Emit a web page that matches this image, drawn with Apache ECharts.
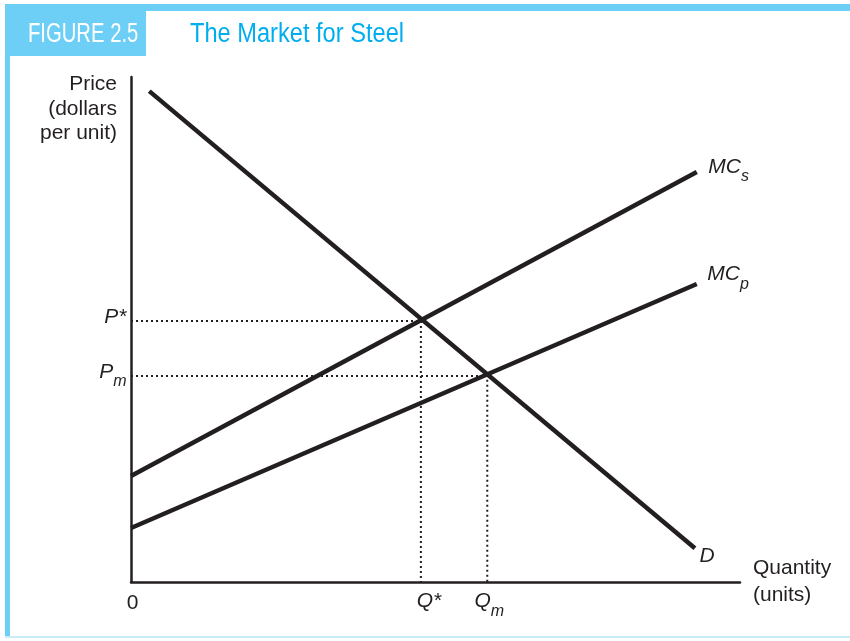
<!DOCTYPE html>
<html>
<head>
<meta charset="utf-8">
<script src="https://cdn.jsdelivr.net/npm/echarts@6/dist/echarts.min.js"></script>
<style>
html,body{margin:0;padding:0;background:#fff;}
#chart{width:850px;height:641px;}
</style>
</head>
<body>
<div id="chart"></div>
<script>
// ---- data (axis units 0..100) ----
const demand = [[3.0, 97.2], [92.6, 6.7]];
const mcSocial = [[0, 21.0], [92.9, 81.2]];
const mcPrivate = [[0, 10.7], [92.9, 59.0]];
const qStar = 47.6, pStar = 51.7;
const qM = 58.5, pM = 40.8;
const figureTag = 'FIGURE 2.5';
const figureTitle = 'The Market for Steel';
const yName = 'Price\n(dollars\nper unit)';
const xName = 'Quantity\n(units)';

const FONT = '"Liberation Sans", Arial, Helvetica, sans-serif';
const INK = '#231f20';
const BLUE = '#6dcff6';

const rich = {
  i: {fontFamily: FONT, fontStyle: 'italic', fontSize: 21, color: INK},
  s: {fontFamily: FONT, fontStyle: 'italic', fontSize: 16, color: INK, padding: [20, 0, 0, 0]},
  n: {fontFamily: FONT, fontSize: 21, color: INK}
};

const labelData = [
  {value: [0, pStar], label: {position: 'left', distance: 4, offset: [0, -4], formatter: '{i|P*}'}},
  {value: [0, pM], label: {position: 'left', distance: 4, offset: [0, -4], formatter: '{i|P}{s|m}'}},
  {value: [qStar, 0], label: {position: 'bottom', distance: 8, offset: [8, 0], formatter: '{i|Q*}'}},
  {value: [qM, 0], label: {position: 'bottom', distance: 1, offset: [2, 0], formatter: '{i|Q}{s|m}'}},
  {value: [0, 0], label: {position: 'bottom', distance: 10, offset: [1.5, 0], formatter: '{n|0}'}},
  {value: mcSocial[1], label: {position: 'right', distance: 11, offset: [0, -5], formatter: '{i|MC}{s|s}'}},
  {value: mcPrivate[1], label: {position: 'right', distance: 10, offset: [0, -9.5], formatter: '{i|MC}{s|p}'}},
  {value: demand[1], label: {position: 'right', distance: 4, offset: [0, 8], formatter: '{i|D}'}}
];

const chart = echarts.init(document.getElementById('chart'), null, {renderer: 'canvas'});
const axisCommon = {
  type: 'value', min: 0, max: 100,
  axisLine: {show: true, lineStyle: {color: INK, width: 2.5}},
  axisTick: {show: false}, axisLabel: {show: false}, splitLine: {show: false}
};
chart.setOption({
  animation: false,
  backgroundColor: '#fff',
  grid: {left: 131, right: 110, top: 77, bottom: 59, containLabel: false},
  xAxis: Object.assign({}, axisCommon, {
    name: xName, nameLocation: 'end', nameGap: 13,
    nameTextStyle: {fontFamily: FONT, fontSize: 21, color: INK, align: 'left', verticalAlign: 'middle', lineHeight: 27, padding: [15, 0, 0, 0]}
  }),
  yAxis: Object.assign({}, axisCommon, {
    name: yName, nameLocation: 'end', nameGap: 5,
    nameTextStyle: {fontFamily: FONT, fontSize: 21, color: INK, align: 'right', verticalAlign: 'top', lineHeight: 24.5, padding: [0, 14, 0, 0]}
  }),
  graphic: [
    {type: 'rect', shape: {x: 5, y: 4, width: 845, height: 7}, style: {fill: BLUE}, silent: true},
    {type: 'rect', shape: {x: 5, y: 4, width: 5, height: 634}, style: {fill: BLUE}, silent: true},
    {type: 'rect', shape: {x: 5, y: 636, width: 845, height: 2}, style: {fill: '#c8ecfa'}, silent: true},
    {type: 'rect', shape: {x: 10, y: 11, width: 136, height: 45}, style: {fill: BLUE}, silent: true},
    {type: 'text', x: 28, y: 35, scaleX: 0.75, silent: true,
      style: {text: figureTag, fill: '#ffffff', font: '27px ' + FONT, verticalAlign: 'middle', align: 'left'}},
    {type: 'text', x: 190, y: 35, scaleX: 0.875, silent: true,
      style: {text: figureTitle, fill: '#00aeef', font: '27px ' + FONT, verticalAlign: 'middle', align: 'left'}}
  ],
  series: [
    {type: 'line', data: [[0, pStar], [qStar, pStar], [qStar, 0]], symbol: 'none', silent: true,
      lineStyle: {color: INK, width: 2, type: [2, 3]}, z: 1},
    {type: 'line', data: [[0, pM], [qM, pM], [qM, 0]], symbol: 'none', silent: true,
      lineStyle: {color: INK, width: 2, type: [2, 3]}, z: 1},
    {type: 'line', name: 'D', data: demand, symbol: 'none', silent: true,
      lineStyle: {color: INK, width: 4.5, cap: 'butt'}, z: 3},
    {type: 'line', name: 'MCs', data: mcSocial, symbol: 'none', silent: true,
      lineStyle: {color: INK, width: 4.5, cap: 'butt'}, z: 3},
    {type: 'line', name: 'MCp', data: mcPrivate, symbol: 'none', silent: true,
      lineStyle: {color: INK, width: 4.5, cap: 'butt'}, z: 3},
    {type: 'scatter', data: labelData, symbolSize: 1, silent: true, z: 5,
      itemStyle: {color: 'rgba(0,0,0,0)', opacity: 1},
      label: {show: true, rich: rich}}
  ]
});
</script>
</body>
</html>
